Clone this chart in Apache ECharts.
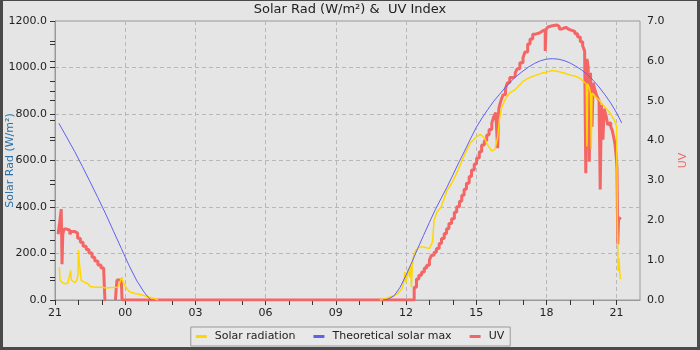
<!DOCTYPE html>
<html>
<head>
<meta charset="utf-8">
<script src="https://cdn.jsdelivr.net/npm/echarts@6/dist/echarts.min.js"></script>
<style>html,body{margin:0;padding:0;background:#e5e5e5;}#c{width:700px;height:350px;}</style>
</head>
<body>
<div id="c"></div>
<script>
// ---- data (clock times, 24h window starting 21:00) ----
const seriesNames = ['Solar radiation', 'Theoretical solar max', 'UV'];
const hourLabels = ['21', '00', '03', '06', '09', '12', '15', '18', '21'];

const solarTimes = ['21:11','21:13','21:18','21:26','21:33','21:38','21:40','21:42','21:44','21:51',
 '21:56','21:59','22:00','22:03','22:07','22:17','22:24','22:30','22:45','23:00',
 '23:11','23:25','23:41','23:46','23:51','23:54','23:59','00:06','00:12','00:25',
 '00:38','00:50','01:03','01:16','01:24',
 '06:00',
 '10:53','11:00','11:10','11:15','11:30','11:40','11:45','11:50','11:55','11:57',
 '12:00','12:03','12:06','12:09','12:12','12:14','12:16','12:20','12:25','12:35',
 '12:45','13:00','13:08','13:12','13:20','13:30','13:45','14:00','14:15','14:30',
 '14:45','15:00','15:10','15:20','15:30','15:40','15:48','15:55','16:00','16:05',
 '16:15','16:25','16:40','17:00','17:15','17:30','17:50','18:00','18:15','18:30',
 '18:45','19:00','19:15','19:25','19:35','19:42','19:44','19:46','19:50','19:53',
 '19:55','19:57','20:05','20:15','20:25','20:35','20:45','20:55','21:00','21:02',
 '21:04','21:06','21:08','21:10'];
const solarValues = [141,84,75,70,72,80,127,85,78,75,
 85,110,215,150,85,75,70,58,55,55,
 52,54,55,75,98,80,63,45,34,28,
 24,18,12,6,0,
 null,
 0,3,8,12,19,30,34,50,84,120,
 75,70,135,98,150,55,145,192,214,228,
 228,221,250,343,380,400,470,510,565,625,
 675,700,712,700,665,640,648,700,780,826,
 865,890,905,940,955,965,977,980,987,983,
 976,968,962,955,940,930,660,930,912,890,
 650,890,875,860,840,820,800,770,745,330,
 125,180,120,90];

const maxTimes = ['21:10','21:30','21:50','22:10','22:30','22:50','23:10','23:30','23:50','00:10',
 '00:30','00:50','01:00','01:06',
 '06:00',
 '11:00','11:15','11:30','11:45','12:00','12:15','12:30','12:45','13:00','13:15',
 '13:30','13:45','14:00','14:15','14:30','14:45','15:00','15:15','15:30','15:45',
 '16:00','16:15','16:30','16:45','17:00','17:15','17:30','17:45','18:00','18:15',
 '18:30','18:45','19:00','19:15','19:30','19:45','20:00','20:15','20:30','20:45',
 '21:00','21:13'];
const maxValues = [760,700,640,575,508,440,370,296,222,148,
 82,30,10,0,
 null,
 0,4,19,55,106,163,221,278,334,388,
 437,485,537,590,640,692,742,783,820,855,
 885,915,942,965,985,1003,1018,1029,1036,1038,
 1036,1030,1020,1006,990,970,945,916,883,847,
 805,762];

const uvTimes = ['21:08','21:12','21:16','21:18','21:20','21:23','21:30','21:38','21:42','21:50',
 '21:58','22:05','22:12','22:20','22:27','22:35','22:42','22:50','22:58','23:05',
 '23:08','23:10','23:35','23:37','23:39','23:50','23:52','12:21',
 '12:27','12:33','12:40','12:47','12:53','13:00','13:05','13:12','13:18','13:25',
 '13:31','13:38','13:44','13:50','13:57','14:04','14:10','14:17','14:23','14:29',
 '14:35','14:42','14:48','14:55','15:01','15:08','15:14','15:21','15:27','15:33',
 '15:40','15:45','15:50','15:55','15:58','16:01','16:05','16:09','16:15','16:20',
 '16:26','16:33','16:40','16:45','16:52','17:00','17:05','17:12','17:18','17:25',
 '17:32','17:42','17:50','17:57','17:59','18:04','18:08','18:15','18:20','18:27',
 '18:33','18:40','18:50','18:58','19:07','19:13','19:20','19:27','19:33','19:38',
 '19:41','19:44','19:47','19:50','19:53','19:57','20:00','20:05','20:10','20:15',
 '20:18','20:21','20:25','20:28','20:33','20:37','20:41','20:45','20:49','20:53',
 '20:56','20:59','21:01','21:03','21:05','21:08','21:10'];
const uvValues = [1.65,1.95,2.28,0.90,1.65,1.78,1.75,1.65,1.72,1.68,
 1.55,1.45,1.35,1.27,1.18,1.07,0.98,0.88,0.80,0.70,
 0,null,0,0.30,0.50,0.50,0,0.32,
 0.53,0.62,0.70,0.80,0.87,1.00,1.12,1.20,1.29,1.42,
 1.54,1.67,1.79,1.92,2.04,2.20,2.34,2.48,2.63,2.78,
 2.93,3.10,3.26,3.41,3.56,3.72,3.89,4.00,4.14,4.28,
 4.44,4.60,4.70,3.81,4.80,4.92,5.05,5.15,5.30,5.45,
 5.58,5.62,5.70,5.80,5.95,6.08,6.22,6.42,6.55,6.67,
 6.70,6.75,6.78,6.25,6.79,6.85,6.88,6.90,6.90,6.86,
 6.80,6.84,6.79,6.76,6.74,6.68,6.60,6.48,6.38,6.25,
 3.18,6.05,5.85,3.47,5.70,4.35,5.45,5.25,5.10,5.00,
 2.77,4.90,4.02,4.80,4.62,4.40,4.45,4.35,4.25,4.06,
 3.90,3.60,3.30,1.40,2.0,2.0,2.08];

// ---- helpers ----
const START_HOUR = 21;
function toHours(times) {
  let day = 0, prev = -1;
  return times.map(t => {
    const [h, m] = t.split(':').map(Number);
    const c = h + m / 60;
    if (prev >= 0 && c < prev) day++;
    prev = c;
    return c + day * 24 - START_HOUR;
  });
}
function pairs(times, values) {
  const xs = toHours(times);
  return xs.map((x, i) => [x, values[i]]);
}

const font = 'DejaVu Sans';
const chart = echarts.init(document.getElementById('c'), null, {renderer: 'canvas'});
const tickStyle = {color: '#333', width: 1};
const option = {
  backgroundColor: '#e5e5e5',
  animation: false,
  textStyle: {fontFamily: font},
  title: {
    text: 'Solar Rad (W/m²) &  UV Index', left: 'center', top: 3, padding: 0,
    textStyle: {fontFamily: font, fontSize: 13, fontWeight: 'normal', color: '#222'}
  },
  legend: {
    data: seriesNames, left: 'center', top: 327, icon: 'rect', itemWidth: 11, itemHeight: 3,
    itemGap: 18, padding: [4, 6, 4, 5], borderColor: '#999', borderWidth: 1, backgroundColor: '#e8e8e8',
    textStyle: {fontFamily: font, fontSize: 11, color: '#222', padding: [0, 0, 0, 3]}
  },
  grid: {left: 55, right: 60, top: 21, bottom: 50, show: true, borderColor: '#999', borderWidth: 1,
    backgroundColor: 'transparent', containLabel: false, outerBoundsMode: 'none'},
  xAxis: [{
    type: 'value', min: 0, max: 25, interval: 1,
    axisLine: {show: true, lineStyle: {color: '#999'}},
    axisTick: {show: true, length: 5, lineStyle: tickStyle},
    axisLabel: {
      fontFamily: font, fontSize: 11, color: '#222', margin: 8, showMaxLabel: false,
      formatter: v => (v % 3 === 0 && v / 3 < hourLabels.length) ? hourLabels[v / 3] : ''
    },
    splitLine: {show: false}
  }, {
    type: 'value', min: 0, max: 25, interval: 3, position: 'bottom',
    axisLine: {show: false}, axisTick: {show: false}, axisLabel: {show: false},
    splitLine: {show: true, showMinLine: false, showMaxLine: false, lineStyle: {color: '#b8b8b8', type: [4, 3]}}
  }],
  yAxis: [{
    type: 'value', min: 0, max: 1200, interval: 200,
    name: 'Solar Rad (W/m²)', nameLocation: 'middle', nameGap: 39, nameRotate: 90, nameMoveOverlap: false,
    nameTextStyle: {fontFamily: font, fontSize: 11, color: '#2872a8'},
    axisLine: {show: true, lineStyle: {color: '#999'}},
    axisTick: {show: true, length: 5, lineStyle: tickStyle},
    minorTick: {show: true, splitNumber: 2, length: 5, lineStyle: tickStyle},
    axisLabel: {fontFamily: font, fontSize: 11, color: '#222', margin: 8, formatter: v => v.toFixed(1)},
    splitLine: {show: true, showMinLine: false, showMaxLine: false, lineStyle: {color: '#b8b8b8', type: [4, 3]}}
  }, {
    type: 'value', position: 'right', min: 0, max: 7, interval: 1,
    name: 'UV', nameLocation: 'middle', nameGap: 38, nameRotate: 90, nameMoveOverlap: false,
    nameTextStyle: {fontFamily: font, fontSize: 11, color: '#f46666'},
    axisLine: {show: true, lineStyle: {color: '#999'}},
    axisTick: {show: true, inside: true, length: 5, lineStyle: tickStyle},
    minorTick: {show: true, splitNumber: 2, length: 5, lineStyle: tickStyle},
    axisLabel: {fontFamily: font, fontSize: 11, color: '#222', margin: 7, formatter: v => v.toFixed(1)},
    splitLine: {show: false}
  }],
  series: [{
    name: seriesNames[0], type: 'line', xAxisIndex: 0, yAxisIndex: 0, z: 3,
    data: pairs(solarTimes, solarValues), showSymbol: false, connectNulls: false,
    lineStyle: {color: '#ffd700', width: 1.5}, itemStyle: {color: '#ffd700'}
  }, {
    name: seriesNames[1], type: 'line', xAxisIndex: 0, yAxisIndex: 0, z: 3,
    data: pairs(maxTimes, maxValues), showSymbol: false, connectNulls: false,
    lineStyle: {color: '#6060f0', width: 1}, itemStyle: {color: '#6060f0'}
  }, {
    name: seriesNames[2], type: 'line', xAxisIndex: 0, yAxisIndex: 1, z: 2, step: 'end',
    data: pairs(uvTimes, uvValues), showSymbol: false, connectNulls: false,
    lineStyle: {color: '#f46666', width: 3}, itemStyle: {color: '#f46666'}
  }],
  graphic: [
    {type: 'rect', silent: true, z: 100, shape: {x: 0, y: 0, width: 700, height: 1}, style: {fill: '#4a4a4a'}},
    {type: 'rect', silent: true, z: 100, shape: {x: 0, y: 0, width: 3, height: 350}, style: {fill: '#4a4a4a'}},
    {type: 'rect', silent: true, z: 100, shape: {x: 697, y: 0, width: 3, height: 350}, style: {fill: '#4a4a4a'}},
    {type: 'rect', silent: true, z: 100, shape: {x: 0, y: 347, width: 700, height: 3}, style: {fill: '#4a4a4a'}}
  ]
};
chart.setOption(option);
</script>
</body>
</html>
